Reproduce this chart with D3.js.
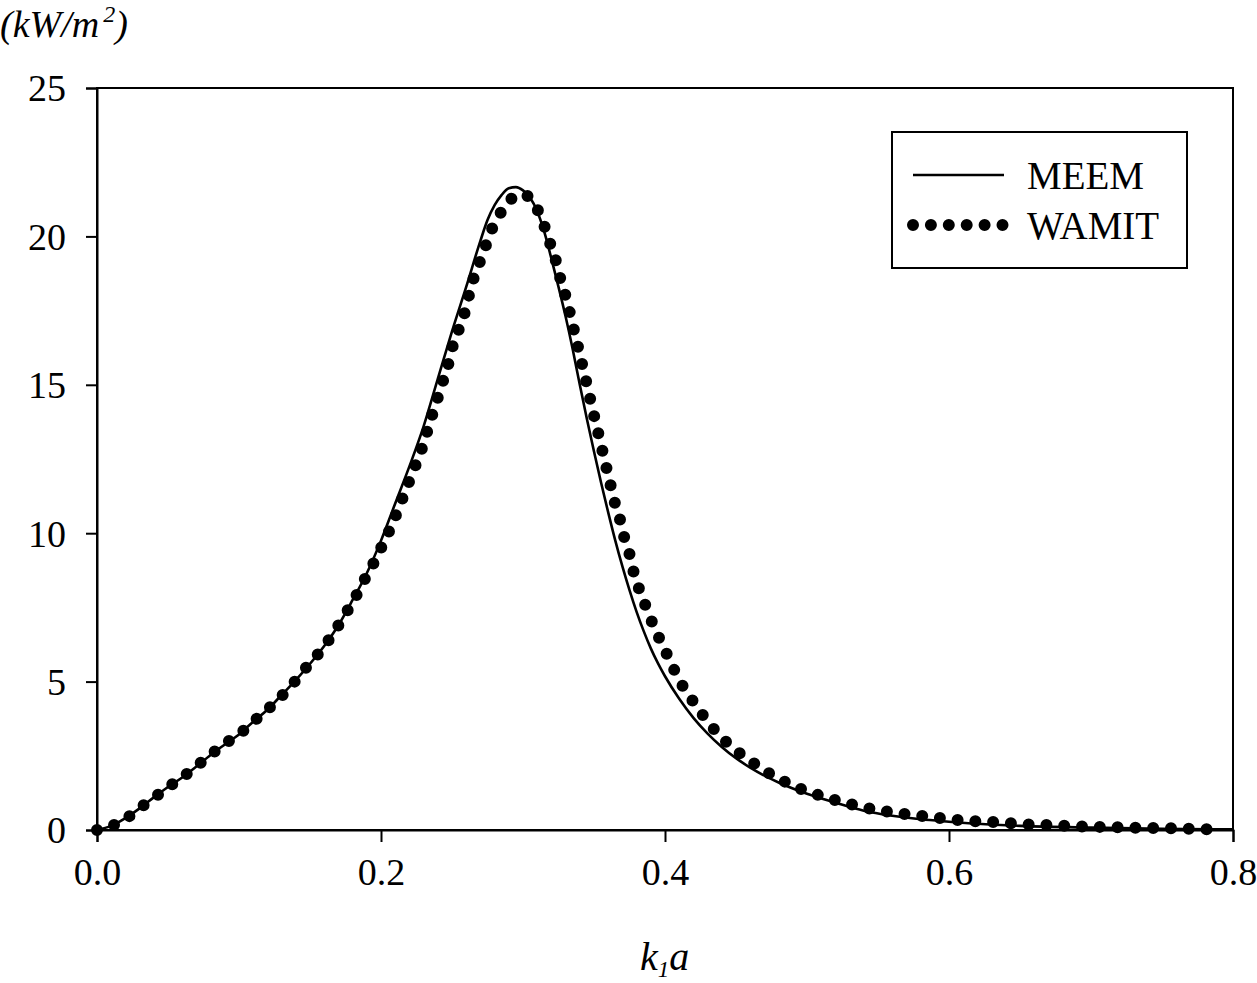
<!DOCTYPE html>
<html>
<head>
<meta charset="utf-8">
<script src="https://cdn.jsdelivr.net/npm/d3@7"></script>
<style>
  body { margin: 0; background: #fff; }
  svg text { font-family: "Liberation Serif", "Times New Roman", serif; fill: #000; }
</style>
</head>
<body>
<div id="chart"></div>
<script>
"use strict";

// MEEM solution (solid line), k1a vs power (kW/m^2)
var meem_x = [0, 0.01, 0.02, 0.03, 0.04, 0.05, 0.06, 0.07, 0.08, 0.09, 0.10, 0.11, 0.12, 0.13, 0.14,
              0.15, 0.16, 0.17, 0.18, 0.19, 0.20, 0.21, 0.22, 0.23, 0.24, 0.25, 0.26, 0.27, 0.275,
              0.28, 0.285, 0.29, 0.295, 0.30, 0.305, 0.31, 0.315, 0.32, 0.325, 0.33, 0.335, 0.34,
              0.345, 0.35, 0.355, 0.36, 0.365, 0.37, 0.375, 0.38, 0.385, 0.39, 0.395, 0.40, 0.41,
              0.42, 0.43, 0.44, 0.45, 0.46, 0.48, 0.50, 0.52, 0.54, 0.56, 0.58, 0.60, 0.62, 0.65,
              0.70, 0.75, 0.80];
var meem_y = [0, 0.14, 0.40, 0.73, 1.10, 1.45, 1.77, 2.14, 2.53, 2.88, 3.22, 3.65, 4.05, 4.55, 5.05,
              5.60, 6.20, 6.90, 7.75, 8.65, 9.75, 11.0, 12.25, 13.6, 15.2, 16.8, 18.3, 19.85, 20.55,
              21.05, 21.4, 21.62, 21.66, 21.55, 21.3, 20.85, 20.15, 19.25, 18.3, 17.3, 16.2, 15.0,
              13.85, 12.75, 11.7, 10.7, 9.75, 8.88, 8.08, 7.35, 6.7, 6.12, 5.62, 5.18, 4.42,
              3.78, 3.25, 2.8, 2.42, 2.1, 1.6, 1.22, 0.92, 0.65, 0.48, 0.36, 0.28, 0.21, 0.14,
              0.08, 0.04, 0.02];

// WAMIT solution (dotted line)
var wamit_x = [0, 0.012, 0.022, 0.031, 0.042, 0.054, 0.066, 0.078, 0.090, 0.102, 0.113, 0.125,
               0.136, 0.147, 0.158, 0.167, 0.175, 0.182, 0.189, 0.196, 0.202, 0.208, 0.213,
               0.218, 0.223, 0.228, 0.236, 0.240, 0.244, 0.248, 0.251, 0.256, 0.260, 0.263,
               0.267, 0.272, 0.276, 0.282, 0.291, 0.298, 0.302, 0.311, 0.316, 0.320, 0.324,
               0.327, 0.331, 0.334, 0.337, 0.340, 0.343, 0.346, 0.349, 0.352, 0.355, 0.358,
               0.361, 0.364, 0.368, 0.371, 0.375, 0.378, 0.382, 0.387, 0.392, 0.398, 0.404,
               0.410, 0.418, 0.427, 0.437, 0.449, 0.462, 0.474, 0.487, 0.499, 0.512, 0.525,
               0.537, 0.550, 0.562, 0.575, 0.588, 0.600, 0.613, 0.625, 0.638, 0.650, 0.663,
               0.675, 0.688, 0.700, 0.713, 0.725, 0.738, 0.751, 0.763, 0.775, 0.787];
var wamit_y = [0, 0.17, 0.44, 0.77, 1.15, 1.58, 1.99, 2.46, 2.90, 3.30, 3.77, 4.28,
               4.82, 5.46, 6.06, 6.67, 7.28, 7.85, 8.49, 9.10, 9.70, 10.31, 10.92,
               11.52, 12.13, 12.74, 13.98, 14.57, 15.18, 15.80, 16.40, 17.01, 17.61, 18.23,
               18.83, 19.43, 20.01, 20.61, 21.23, 21.42, 21.39, 20.83, 20.22, 19.63, 19.04,
               18.44, 17.83, 17.22, 16.62, 16.03, 15.41, 14.80, 14.17, 13.57, 12.97, 12.35,
               11.76, 11.14, 10.52, 9.91, 9.30, 8.68, 8.09, 7.47, 6.87, 6.26, 5.65,
               5.05, 4.46, 3.85, 3.26, 2.72, 2.27, 1.89, 1.57, 1.32, 1.12, 0.94,
               0.80, 0.67, 0.58, 0.51, 0.43, 0.37, 0.31, 0.28, 0.25, 0.20, 0.18,
               0.16, 0.13, 0.11, 0.10, 0.08, 0.07, 0.06, 0.05, 0.03, 0.02];

var x_ticks = [0, 0.2, 0.4, 0.6, 0.8];
var y_ticks = [0, 5, 10, 15, 20, 25];
var series_names = ["MEEM", "WAMIT"];

var W = 1257, H = 983;
var margin = {top: 88, right: 24, bottom: 153, left: 97},
    width = W - margin.left - margin.right,
    height = H - margin.top - margin.bottom;

var svg = d3.select("#chart")
            .append("svg")
            .attr("width", W)
            .attr("height", H);

var g = svg.append("g")
           .attr("transform", "translate(" + margin.left + "," + margin.top + ")");

var x = d3.scaleLinear().domain([0, 0.8]).range([0, width]);
var y = d3.scaleLinear().domain([0, 25]).range([height, 0]);

// frame
g.append("rect")
 .attr("x", 0).attr("y", 0)
 .attr("width", width).attr("height", height)
 .attr("fill", "none")
 .attr("stroke", "#000")
 .attr("stroke-width", 2);

// axes
var xaxis = g.append("g")
             .attr("transform", "translate(0," + height + ")")
             .call(d3.axisBottom(x).tickValues(x_ticks).tickFormat(d3.format(".1f"))
                     .tickSize(12).tickPadding(16));
var yaxis = g.append("g")
             .call(d3.axisLeft(y).tickValues(y_ticks).tickFormat(d3.format("d"))
                     .tickSize(11).tickPadding(20));

[xaxis, yaxis].forEach(function(a){
  a.select(".domain").attr("stroke-width", 2);
  a.selectAll(".tick line").attr("stroke-width", 2);
  a.selectAll(".tick text")
   .style("font-family", '"Liberation Serif", "Times New Roman", serif')
   .style("font-size", "38px");
});
xaxis.selectAll(".tick text").attr("dy", "0.71em");
yaxis.selectAll(".tick text").attr("dy", "0.34em");

// lines
var meem = meem_x.map(function(d, i){ return {x: d, y: meem_y[i]}; });
var wamit = wamit_x.map(function(d, i){ return {x: d, y: wamit_y[i]}; });

var line = d3.line()
             .x(function(d){ return x(d.x); })
             .y(function(d){ return y(d.y); })
             .curve(d3.curveMonotoneX);

g.append("path")
 .datum(meem)
 .attr("d", line)
 .attr("fill", "none")
 .attr("stroke", "#000")
 .attr("stroke-width", 2.6);

g.append("path")
 .datum(wamit)
 .attr("d", line)
 .attr("fill", "none")
 .attr("stroke", "#000")
 .attr("stroke-width", 12)
 .attr("stroke-linecap", "round")
 .attr("stroke-dasharray", "0 17.8");

// legend
var lg = svg.append("g").attr("transform", "translate(892,132)");
lg.append("rect")
  .attr("width", 295).attr("height", 136)
  .attr("fill", "#fff")
  .attr("stroke", "#000")
  .attr("stroke-width", 2);
lg.append("line")
  .attr("x1", 21).attr("x2", 112).attr("y1", 43).attr("y2", 43)
  .attr("stroke", "#000").attr("stroke-width", 2.6);
lg.append("line")
  .attr("x1", 21).attr("x2", 112).attr("y1", 93).attr("y2", 93)
  .attr("stroke", "#000").attr("stroke-width", 12)
  .attr("stroke-linecap", "round")
  .attr("stroke-dasharray", "0 17.9");
lg.selectAll("text.lab")
  .data(series_names)
  .enter().append("text")
  .attr("class", "lab")
  .attr("x", 135)
  .attr("y", function(d, i){ return 57 + i * 50; })
  .style("font-size", "39px")
  .text(function(d){ return d; });

// axis titles
var xt = svg.append("text")
            .attr("x", 640).attr("y", 970)
            .style("font-size", "40px")
            .style("font-style", "italic");
xt.append("tspan").text("k");
xt.append("tspan").attr("dy", 7).style("font-size", "23px").text("1");
xt.append("tspan").attr("dy", -7).text("a");

var yt = svg.append("text")
            .attr("x", 0).attr("y", 37)
            .style("font-size", "38px")
            .style("font-style", "italic");
yt.append("tspan").text("(kW/m");
yt.append("tspan").attr("dx", 4).attr("dy", -15).style("font-size", "24px").text("2");
yt.append("tspan").attr("dy", 15).text(")");
</script>
</body>
</html>
